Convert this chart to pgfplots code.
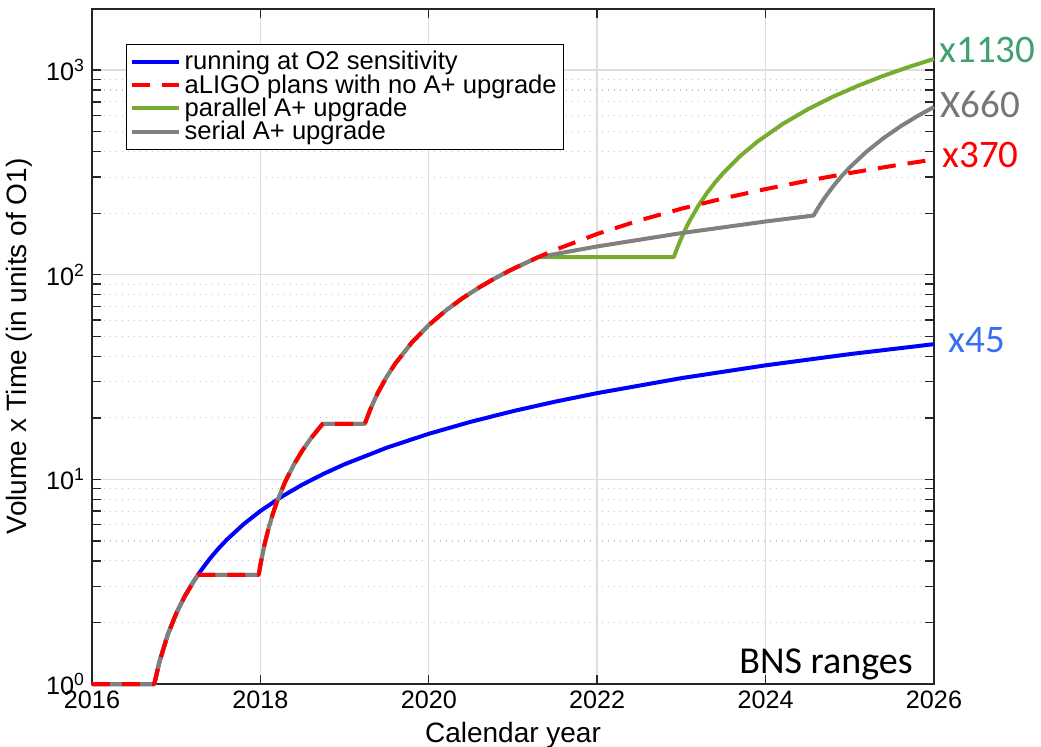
\documentclass[border=0pt]{standalone}
\usepackage{pgfplots}
\pgfplotsset{compat=1.18}
\usepackage{fontspec}
\setmainfont{Liberation Sans}
\newfontfamily\calibri{Carlito}
\definecolor{mblue}{RGB}{0,0,255}
\definecolor{mred}{RGB}{255,0,0}
\definecolor{mgreen}{RGB}{119,172,48}
\definecolor{mgray}{RGB}{128,128,128}
\definecolor{tgreen}{RGB}{64,160,112}
\definecolor{tblue}{RGB}{60,110,240}
\definecolor{tgray}{RGB}{118,118,118}
\definecolor{gridc}{RGB}{222,222,222}
\definecolor{axc}{RGB}{38,38,38}
\begin{document}
\begin{tikzpicture}
\begin{axis}[
  at={(0,0)}, anchor=south west,
  scale only axis, width=421pt, height=337.7pt,
  xmin=2016, xmax=2026, ymode=log, ymin=1, ymax=2000,
  xtick={2016,2018,2020,2022,2024,2026},
  xticklabels={2016,2018,2020,2022,2024,2026},
  ytick={1,10,100,1000},
  yticklabels={10\textsuperscript{0},10\textsuperscript{1},10\textsuperscript{2},10\textsuperscript{3}},
  minor ytick={2,3,4,5,6,7,8,9,20,30,40,50,60,70,80,90,200,300,400,500,600,700,800,900},
  xmajorgrids, ymajorgrids, yminorgrids,
  major grid style={gridc, line width=0.7pt},
  minor grid style={gray!45, line width=0.6pt, dash pattern=on 0.6pt off 2.4pt},
  tick align=inside, xtick pos=both, ytick pos=both,
  major tick length=4.5pt, minor tick length=4.5pt,
  every tick/.style={axc, line width=0.7pt},
  axis line style={axc, line width=0.9pt},
  tick label style={font=\fontsize{12.6}{14}\selectfont},
  label style={font=\fontsize{14}{16}\selectfont},
  xlabel={Calendar year}, ylabel={Volume x Time (in units of O1)},
  clip=false,
  legend cell align=left,
  legend style={at={(0.0404,0.948)}, anchor=north west, draw=black, line width=0.6pt,
    font=\fontsize{12.8}{13}\selectfont, inner sep=1.5pt, row sep=-3.2pt},
  legend image code/.code={\draw[#1] (0pt,0pt) -- (23.5pt,0pt);},
  every axis plot/.append style={line width=2pt, line join=round},
]
\addlegendimage{mblue, line width=2pt}
\addlegendentry{running at O2 sensitivity}
\addlegendimage{mred, line width=2pt, dash pattern=on 9pt off 6pt}
\addlegendentry{aLIGO plans with no A+ upgrade}
\addlegendimage{mgreen, line width=2pt}
\addlegendentry{parallel A+ upgrade}
\addlegendimage{mgray, line width=2pt}
\addlegendentry{serial A+ upgrade}

% running at O2 sensitivity
\addplot[mblue, forget plot] coordinates {
(2016,1)(2016.74,1)(2016.8,1.279)(2016.9,1.744)(2017.0,2.209)(2017.1,2.674)(2017.2,3.139)(2017.26,3.42)
(2017.3,3.614)(2017.4,4.099)(2017.5,4.584)(2017.6,5.069)(2017.8,6.039)(2018.0,7.009)(2018.25,8.222)
(2018.5,9.434)(2018.75,10.647)(2019.0,11.859)(2019.5,14.284)(2020.0,16.709)(2020.5,19.134)
(2021.0,21.559)(2021.5,23.984)(2022.0,26.409)(2023.0,31.259)(2024.0,36.109)(2025.0,40.959)(2026.0,45.809)};

% parallel A+ upgrade
\addplot[mgreen, forget plot] coordinates {
(2016,1)(2016.74,1)(2016.8,1.279)(2016.9,1.744)(2017.0,2.209)(2017.1,2.674)(2017.2,3.139)(2017.26,3.42)
(2017.98,3.42)(2018.0,3.822)(2018.05,4.827)(2018.1,5.832)(2018.15,6.837)(2018.2,7.842)(2018.3,9.852)(2018.4,11.862)
(2018.5,13.872)(2018.6,15.882)(2018.74,18.7)(2019.24,18.7)(2019.3,21.71)(2019.35,24.2)(2019.4,26.72)(2019.5,31.73)
(2019.6,36.74)(2019.8,46.76)(2020.0,56.78)(2020.2,66.80)(2020.4,76.82)(2020.6,86.84)(2020.8,96.86)
(2021.0,106.9)(2021.3,122.0)
(2022.91,122.0)(2022.95,135.1)(2023.0,151.5)(2023.05,167.9)(2023.1,184.3)(2023.2,217.1)(2023.3,249.9)
(2023.4,282.7)(2023.5,315.5)(2023.7,381.1)(2023.9,446.7)(2024.2,545.1)(2024.5,643.5)(2024.8,741.9)
(2025.1,840.3)(2025.4,938.7)(2025.7,1037.1)(2026.0,1135.5)};

% serial A+ upgrade
\addplot[mgray, forget plot] coordinates {
(2016,1)(2016.74,1)(2016.8,1.279)(2016.9,1.744)(2017.0,2.209)(2017.1,2.674)(2017.2,3.139)(2017.26,3.42)
(2017.98,3.42)(2018.0,3.822)(2018.05,4.827)(2018.1,5.832)(2018.15,6.837)(2018.2,7.842)(2018.3,9.852)(2018.4,11.862)
(2018.5,13.872)(2018.6,15.882)(2018.74,18.7)(2019.24,18.7)(2019.3,21.71)(2019.35,24.2)(2019.4,26.72)(2019.5,31.73)
(2019.6,36.74)(2019.8,46.76)(2020.0,56.78)(2020.2,66.80)(2020.4,76.82)(2020.6,86.84)(2020.8,96.86)
(2021.0,106.9)(2021.3,122.0)
(2022.0,137.6)(2023.0,159.9)(2024.0,182.2)(2024.57,194.9)(2024.6,204.7)(2024.65,221.0)(2024.7,237.3)
(2024.8,269.9)(2024.9,302.5)(2025.0,335.1)(2025.2,400.3)(2025.4,465.5)(2025.6,530.7)(2025.8,595.9)(2026.0,661.1)};

% aLIGO plans with no A+ upgrade
\addplot[mred, dash pattern=on 9pt off 6pt, forget plot] coordinates {
(2016,1)(2016.74,1)(2016.8,1.279)(2016.9,1.744)(2017.0,2.209)(2017.1,2.674)(2017.2,3.139)(2017.26,3.42)
(2017.98,3.42)(2018.0,3.822)(2018.05,4.827)(2018.1,5.832)(2018.15,6.837)(2018.2,7.842)(2018.3,9.852)(2018.4,11.862)
(2018.5,13.872)(2018.6,15.882)(2018.74,18.7)(2019.24,18.7)(2019.3,21.71)(2019.35,24.2)(2019.4,26.72)(2019.5,31.73)
(2019.6,36.74)(2019.8,46.76)(2020.0,56.78)(2020.2,66.80)(2020.4,76.82)(2020.6,86.84)(2020.8,96.86)
(2021.0,106.9)(2021.3,122.0)
(2021.5,132.4)(2022.0,158.4)(2022.5,184.4)(2023.0,210.4)(2023.5,236.4)(2024.0,262.4)(2024.5,288.4)
(2025.0,314.4)(2025.5,340.4)(2026.0,366.4)};

\node[anchor=west, inner sep=0, text=tgreen, font=\calibri\fontsize{19.5}{20}\selectfont, xshift=2.5pt] at (axis cs:2026,1259) {x1130};
\node[anchor=west, inner sep=0, text=tgray, font=\calibri\fontsize{19.5}{20}\selectfont, xshift=3pt] at (axis cs:2026,678) {X660};
\node[anchor=west, inner sep=0, text=mred, font=\calibri\fontsize{19.5}{20}\selectfont, xshift=4pt] at (axis cs:2026,386) {x370};
\node[anchor=west, inner sep=0, text=tblue, font=\calibri\fontsize{19.5}{20}\selectfont, xshift=7pt] at (axis cs:2026,48.1) {x45};
\node[anchor=base east, inner sep=0, font=\calibri\fontsize{19}{20}\selectfont, xshift=-10.5pt, yshift=5.5pt] at (rel axis cs:1,0) {BNS ranges};
\end{axis}
\pgfresetboundingbox
\path[use as bounding box] (-46pt,-31pt) rectangle (474.5pt,342pt);
\end{tikzpicture}
\end{document}
